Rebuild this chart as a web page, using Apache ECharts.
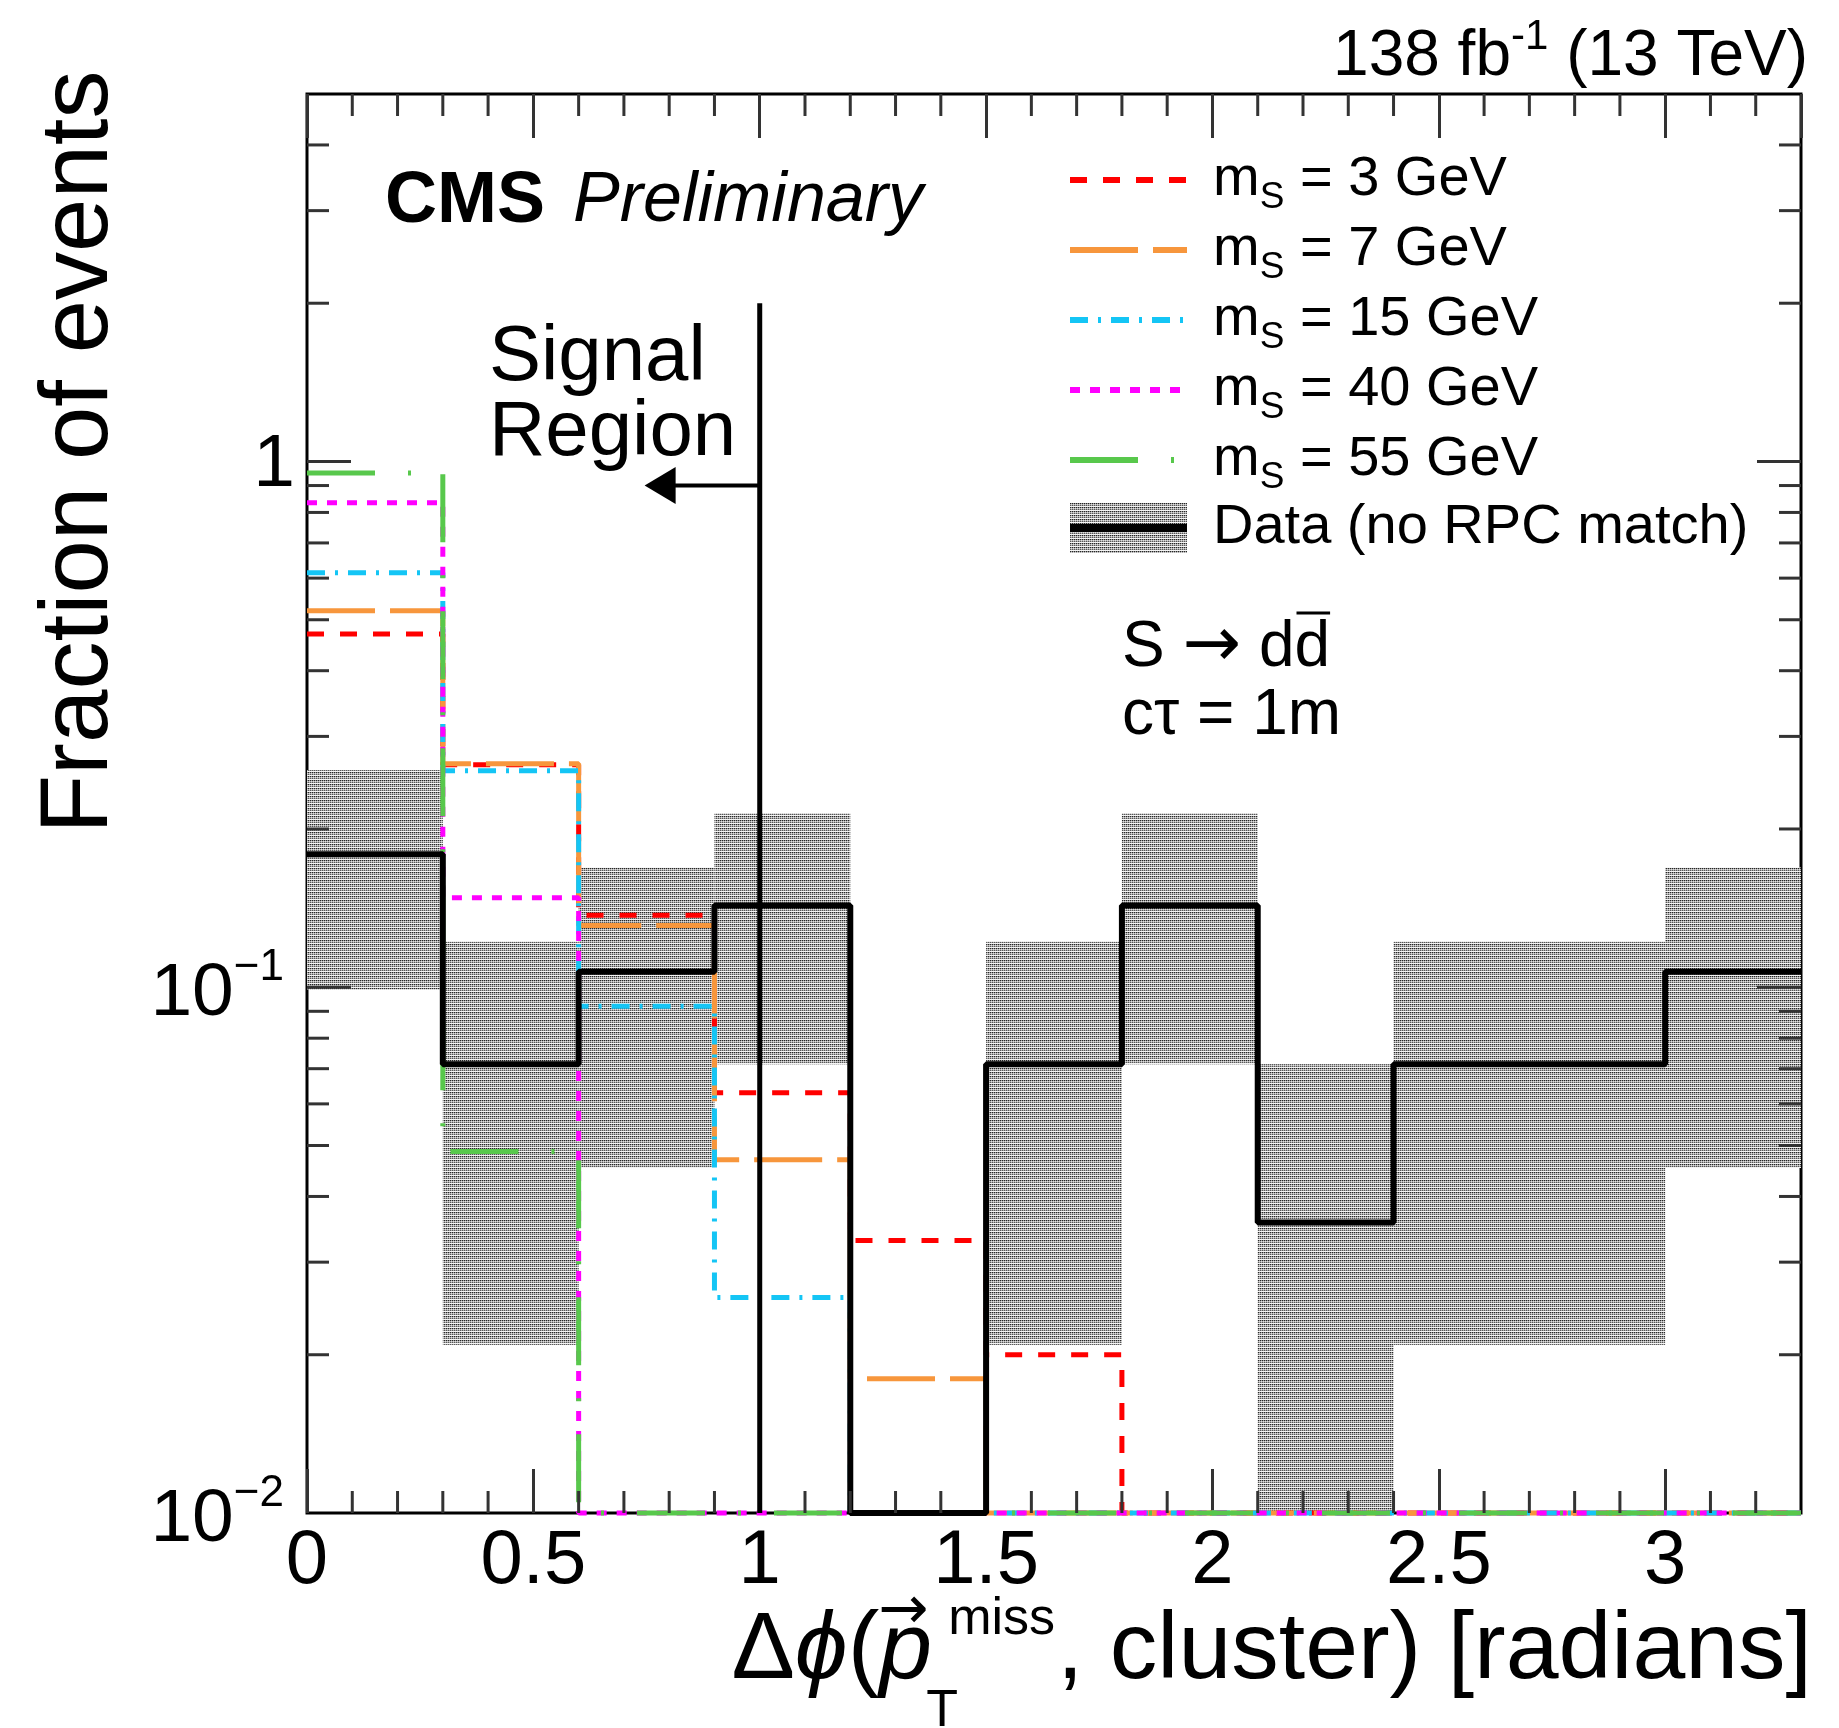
<!DOCTYPE html>
<html><head><meta charset="utf-8">
<script src="https://cdn.jsdelivr.net/npm/echarts@6/dist/echarts.min.js"></script>
<style>html,body{margin:0;padding:0;background:#fff;}#chart{width:1839px;height:1728px;}</style>
</head><body><div id="chart"></div>
<script>
// ---------------- data ----------------
const binEdges = [0, 0.3, 0.6, 0.9, 1.2, 1.5, 1.8, 2.1, 2.4, 2.7, 3.0, 3.3];
const massLabels = ['3 GeV', '7 GeV', '15 GeV', '40 GeV', '55 GeV'];
const sigMs3  = [0.47, 0.265, 0.137, 0.063, 0.033, 0.020, 0, 0, 0, 0, 0];
const sigMs7  = [0.52, 0.266, 0.131, 0.047, 0.018, 0, 0, 0, 0, 0, 0];
const sigMs15 = [0.614, 0.258, 0.092, 0.0257, 0, 0, 0, 0, 0, 0, 0];
const sigMs40 = [0.835, 0.148, 0, 0, 0, 0, 0, 0, 0, 0, 0];
const sigMs55 = [0.951, 0.0487, 0, 0, 0, 0, 0, 0, 0, 0, 0];
const dataFrac    = [0.179, 0.0714, 0.107, 0.143, 0, 0.0714, 0.143, 0.0357, 0.0714, 0.0714, 0.107];
const dataErrLow  = [0.099, 0.0209, 0.0453, 0.0714, 0, 0.0209, 0.0714, 0, 0.0209, 0.0209, 0.0453];
const dataErrHigh = [0.259, 0.122, 0.169, 0.214, 0, 0.122, 0.214, 0.0714, 0.122, 0.122, 0.169];
const dataName = 'Data (no RPC match)';
const xTickValues = [0, 0.5, 1, 1.5, 2, 2.5, 3];
const xTickLabels = ['0', '0.5', '1', '1.5', '2', '2.5', '3'];
const yTickValues = [0.01, 0.1, 1];
const yTickLabels = ['{b|10}{sup|\u22122}', '{b|10}{sup|\u22121}', '{one|1}'];
const signalCut = 1.0, cutTop = 2.0, arrowY = 0.9, arrowHeadX = 0.78;
const xMin = 0, xMax = 3.3, yMin = 0.01, yMax = 5;

// ---------------- styling ----------------
const FONT = '"Liberation Sans", Arial, Helvetica, sans-serif';
const sigColors = ['#ff0000', '#f7963c', '#14c5f5', '#ff00ff', '#58c84c'];
const sigDash = [[17, 16], [68, 15], [18, 10, 3, 10], [10, 10], [68, 33, 3, 33]];
const sigVals = [sigMs3, sigMs7, sigMs15, sigMs40, sigMs55];
const sigNames = ['ms3', 'ms7', 'ms15', 'ms40', 'ms55'];
const G = {left: 307, top: 94, width: 1494, height: 1419};
const tickColor = '#333';
const ICON_W = 117, ICON_H = 50;

// pattern for the uncertainty band
const pat = document.createElement('canvas'); pat.width = 4; pat.height = 4;
(function(){ const c = pat.getContext('2d');
  const rows = [['#262626','#9a9a9a','#262626','#9a9a9a'], ['#ababab','#dedede','#ababab','#dedede'], ['#575757','#ababab','#575757','#ababab'], ['#f4f4f4','#f4f4f4','#f4f4f4','#f4f4f4']];
  rows.forEach((r,y) => r.forEach((col,x) => { c.fillStyle = col; c.fillRect(x,y,1,1); }));
})();
const bandFill = {type: 'pattern', image: pat, repeat: 'repeat'};

// legend icons
function lineIcon(color, dash, width){
  const cv = document.createElement('canvas'); cv.width = ICON_W; cv.height = ICON_H;
  const c = cv.getContext('2d'); c.strokeStyle = color; c.lineWidth = width; c.setLineDash(dash); c.lineCap = 'butt';
  c.beginPath(); c.moveTo(0, ICON_H/2); c.lineTo(ICON_W, ICON_H/2); c.stroke();
  return 'image://' + cv.toDataURL();
}
const iconCanvas = document.createElement('canvas'); iconCanvas.width = ICON_W; iconCanvas.height = ICON_H;
(function(){ const c = iconCanvas.getContext('2d');
  c.fillStyle = c.createPattern(pat, 'repeat'); c.fillRect(0,0,ICON_W,ICON_H);
  c.fillStyle = '#000'; c.fillRect(0,21,ICON_W,8);
})();
const dataIcon = 'image://' + iconCanvas.toDataURL();

function stepPoints(vals){
  const pts = [];
  vals.forEach((v,i) => { const y = Math.max(v, yMin); pts.push([binEdges[i], y]); pts.push([binEdges[i+1], y]); });
  return pts;
}
function measure(txt, size, style, family){
  const c = document.createElement('canvas').getContext('2d');
  c.font = (style||'normal') + ' normal ' + size + 'px ' + (family || '"Liberation Sans"');
  return c.measureText(txt).width;
}

// tick positions (axis decoration)
const xMinorTicks = []; for (let k = 1; k < 33; k++) if (k % 5 !== 0) xMinorTicks.push(k/10);
const yMinorTicks = []; for (let e = -2; e <= 0; e++) for (let m = 2; m <= 9; m++) { const v = m*Math.pow(10,e); if (v < yMax) yMinorTicks.push(v); }
const minorLen = 22, majorLen = 44;

const series = [];
series.push({
  type: 'custom', name: 'band', z: 1, silent: true,
  data: binEdges.slice(0,-1).map((e,i) => [e, binEdges[i+1], Math.max(dataErrLow[i], yMin), dataErrHigh[i]]).filter(d => d[3] > yMin),
  encode: {x: [0,1], y: [2,3]},
  renderItem(params, api){
    const p0 = api.coord([api.value(0), api.value(3)]);
    const p1 = api.coord([api.value(1), api.value(2)]);
    return {type: 'rect', shape: {x: p0[0], y: p0[1], width: p1[0]-p0[0], height: p1[1]-p0[1]}, style: {fill: bandFill}};
  }
});
sigVals.forEach((vals, i) => {
  series.push({
    type: 'line', name: sigNames[i], data: stepPoints(vals), symbol: 'none', showSymbol: false, clip: false, z: 2 + i*0.01,
    lineStyle: {color: sigColors[i], width: 5, type: sigDash[i], cap: 'butt'}, itemStyle: {color: sigColors[i]}
  });
});
series.push({
  type: 'line', name: dataName, data: stepPoints(dataFrac), symbol: 'none', showSymbol: false, clip: false, z: 3,
  lineStyle: {color: '#000', width: 6}, itemStyle: {color: '#000'}
});
series.push({
  type: 'line', name: 'cut', data: [[signalCut, yMin], [signalCut, cutTop]], symbol: 'none', clip: false, z: 4,
  lineStyle: {color: '#000', width: 5}
});
series.push({
  type: 'line', name: 'arrow', clip: false, z: 4, showSymbol: true, symbol: 'none',
  data: [{value: [signalCut, arrowY], symbol: 'none'}, {value: [arrowHeadX, arrowY], symbol: 'triangle', symbolSize: [37, 31], symbolRotate: 90}],
  lineStyle: {color: '#000', width: 4}, itemStyle: {color: '#000'}
});
series.push({
  type: 'custom', name: 'xminor', z: 6, silent: true, clip: false,
  data: xMinorTicks.map(v => [v, yMin]), encode: {x: 0, y: 1},
  renderItem(params, api){
    const v = api.value(0); const b = api.coord([v, yMin]); const t = api.coord([v, yMax]);
    const st = {stroke: tickColor, lineWidth: 3};
    return {type: 'group', children: [
      {type: 'line', shape: {x1: b[0], y1: b[1], x2: b[0], y2: b[1]-minorLen}, style: st},
      {type: 'line', shape: {x1: t[0], y1: t[1], x2: t[0], y2: t[1]+minorLen}, style: st}]};
  }
});
series.push({
  type: 'custom', name: 'yticks', z: 6, silent: true, clip: false,
  data: yMinorTicks.map(v => [xMin, v, minorLen]).concat(yTickValues.slice(1).map(v => [xMin, v, majorLen])),
  encode: {x: 0, y: 1},
  renderItem(params, api){
    const v = api.value(1), len = api.value(2); const l = api.coord([xMin, v]); const r = api.coord([xMax, v]);
    const st = {stroke: tickColor, lineWidth: 3};
    return {type: 'group', children: [
      {type: 'line', shape: {x1: l[0], y1: l[1], x2: l[0]+len, y2: l[1]}, style: st},
      {type: 'line', shape: {x1: r[0], y1: r[1], x2: r[0]-len, y2: r[1]}, style: st}]};
  }
});

const tickCommon = {show: true, inside: true, length: majorLen, lineStyle: {color: tickColor, width: 3}};
function xLabel(v){ const i = xTickValues.findIndex(t => Math.abs(t - v) < 1e-6); return i < 0 ? '' : xTickLabels[i]; }
function yLabel(v){ const i = yTickValues.findIndex(t => Math.abs(Math.log10(v/t)) < 1e-6); return i < 0 ? '' : yTickLabels[i]; }

// text layout for the x-axis title
const XF = 95, SF = 52;
const rightTxt = ', cluster) [radians]';
const rightW = measure(rightTxt, XF);
const commaX = 1812 - rightW;
const missW = measure('miss', SF);
const missLeft = commaX - missW - 2;
const pRight = missLeft - 16;
const pW = measure('p', XF, 'italic');
// S -> d dbar
const AF = 64, ARF = 70;
const wS = measure('S ', AF), wAr = measure('\u2192', ARF, 'normal', '"DejaVu Sans"'), wDD = measure(' dd', AF), wD = measure('d', AF);
const ovX1 = 1122 + wS + wAr + wDD - wD, ovX2 = 1122 + wS + wAr + wDD;

const graphics = [
  {type: 'text', x: 1808, y: 57, style: {text: '{a|138 fb}{sup|-1}{a| (13 TeV)}', align: 'right', verticalAlign: 'middle', textAlign: 'right', textVerticalAlign: 'middle', fill: '#000',
    rich: {a: {fontSize: 64, fontFamily: FONT, lineHeight: 70}, sup: {fontSize: 42, fontFamily: FONT, lineHeight: 70, padding: [0,0,40,0]}}}},
  {type: 'text', x: 385, y: 202, style: {text: 'CMS', fontSize: 72, fontWeight: 'bold', fontFamily: FONT, fill: '#000', verticalAlign: 'middle', textVerticalAlign: 'middle'}},
  {type: 'text', x: 573, y: 202, style: {text: 'Preliminary', fontSize: 70, fontStyle: 'italic', fontFamily: FONT, fill: '#000', verticalAlign: 'middle', textVerticalAlign: 'middle'}},
  {type: 'text', x: 489, y: 358, style: {text: 'Signal', fontSize: 78, fontFamily: FONT, fill: '#000', verticalAlign: 'middle', textVerticalAlign: 'middle'}},
  {type: 'text', x: 489, y: 433, style: {text: 'Region', fontSize: 78, fontFamily: FONT, fill: '#000', verticalAlign: 'middle', textVerticalAlign: 'middle'}},
  {type: 'text', x: 1122, y: 648, style: {text: '{n|S }{ar|\u2192}{n| dd}', fill: '#000', verticalAlign: 'middle', textVerticalAlign: 'middle',
    rich: {n: {fontSize: AF, fontFamily: FONT, lineHeight: 72}, ar: {fontSize: ARF, fontFamily: '"DejaVu Sans"', lineHeight: 72}}}},
  {type: 'line', shape: {x1: ovX1 + 2, y1: 613, x2: ovX2, y2: 613}, style: {stroke: '#000', lineWidth: 3}},
  {type: 'text', x: 1122, y: 716, style: {text: 'c\u03c4 = 1m', fontSize: 64, fontFamily: FONT, fill: '#000', verticalAlign: 'middle', textVerticalAlign: 'middle'}},
  {type: 'text', x: 81, y: 452, rotation: Math.PI/2, style: {text: 'Fraction of events', fontSize: 96, fontFamily: FONT, fill: '#000', align: 'center', verticalAlign: 'middle', textAlign: 'center', textVerticalAlign: 'middle'}},
  {type: 'text', x: 1812, y: 1652, style: {text: rightTxt, fontSize: XF, fontFamily: FONT, fill: '#000', align: 'right', textAlign: 'right', verticalAlign: 'middle', textVerticalAlign: 'middle'}},
  {type: 'text', x: missLeft, y: 1620, style: {text: 'miss', fontSize: SF, fontFamily: FONT, fill: '#000', verticalAlign: 'middle', textVerticalAlign: 'middle'}},
  {type: 'text', x: pRight - 6, y: 1712, style: {text: 'T', fontSize: SF, fontFamily: FONT, fill: '#000', verticalAlign: 'middle', textVerticalAlign: 'middle'}},
  {type: 'text', x: pRight, y: 1652, style: {text: '{n|\u0394}{i|\u03d5}{n|(}{i|p}', align: 'right', textAlign: 'right', verticalAlign: 'middle', textVerticalAlign: 'middle', fill: '#000',
    rich: {n: {fontSize: XF, fontFamily: FONT}, i: {fontSize: XF, fontFamily: FONT, fontStyle: 'italic'}}}},
  {type: 'text', x: pRight - pW/2 - 2, y: 1612, style: {text: '\u2192', fontSize: 60, fontFamily: '"DejaVu Sans"', fill: '#000', align: 'center', textAlign: 'center', verticalAlign: 'middle', textVerticalAlign: 'middle'}}
];

const legendFmt = name => {
  if (name === dataName) return '{d|' + dataName + '}';
  const i = sigNames.indexOf(name);
  return '{m0|m}{s|S}{t| = ' + massLabels[i] + '}';
};

const option = {
  animation: false,
  backgroundColor: '#fff',
  grid: {left: G.left, top: G.top, width: G.width, height: G.height, show: true, borderColor: '#000', borderWidth: 3, backgroundColor: 'transparent', containLabel: false, outerBoundsMode: 'none'},
  xAxis: [
    {type: 'value', min: xMin, max: xMax, interval: 0.5, position: 'bottom', splitLine: {show: false}, axisLine: {show: false},
     axisTick: tickCommon, axisLabel: {show: true, margin: 11, fontSize: 76, fontFamily: FONT, color: '#000', formatter: xLabel, showMaxLabel: false, hideOverlap: false}},
    {type: 'value', min: xMin, max: xMax, interval: 0.5, position: 'top', splitLine: {show: false}, axisLine: {show: false},
     axisTick: tickCommon, axisLabel: {show: false}}
  ],
  yAxis: [
    {type: 'log', logBase: 10, min: yMin, max: yMax, position: 'left', splitLine: {show: false}, axisLine: {show: false},
     axisTick: {show: false}, minorTick: {show: false},
     axisLabel: {show: true, margin: 12, color: '#000', formatter: yLabel, showMaxLabel: false, hideOverlap: false,
       rich: {b: {fontSize: 75, fontFamily: FONT, lineHeight: 80, padding: [14,0,0,0]},
              sup: {fontSize: 44, fontFamily: FONT, lineHeight: 80, padding: [0,11,38,0]},
              one: {fontSize: 75, fontFamily: FONT, lineHeight: 80, padding: [8,0,0,0]}}}},
    {type: 'log', logBase: 10, min: yMin, max: yMax, position: 'right', splitLine: {show: false}, axisLine: {show: false},
     axisTick: {show: false}, axisLabel: {show: false}}
  ],
  legend: {
    orient: 'vertical', left: 1070, top: 150, itemWidth: ICON_W, itemHeight: ICON_H, itemGap: 3.5, selectedMode: false, padding: 0,
    data: sigNames.map((n,i) => ({name: n, icon: lineIcon(sigColors[i], sigDash[i], 6)})).concat([{name: dataName, icon: dataIcon}]),
    formatter: legendFmt,
    textStyle: {color: '#000', fontFamily: FONT, fontSize: 56,
      rich: {m0: {fontSize: 56, fontFamily: FONT, lineHeight: 64, padding: [0,0,0,21]},
             s: {fontSize: 37, fontFamily: FONT, height: 24, lineHeight: 60, padding: [36,0,0,0]},
             t: {fontSize: 56, fontFamily: FONT, lineHeight: 64},
             d: {fontSize: 56, fontFamily: FONT, lineHeight: 64, padding: [0,0,0,21]}}}
  },
  graphic: graphics,
  series: series
};
const chart = echarts.init(document.getElementById('chart'), null, {renderer: 'canvas'});
chart.setOption(option);
</script></body></html>
